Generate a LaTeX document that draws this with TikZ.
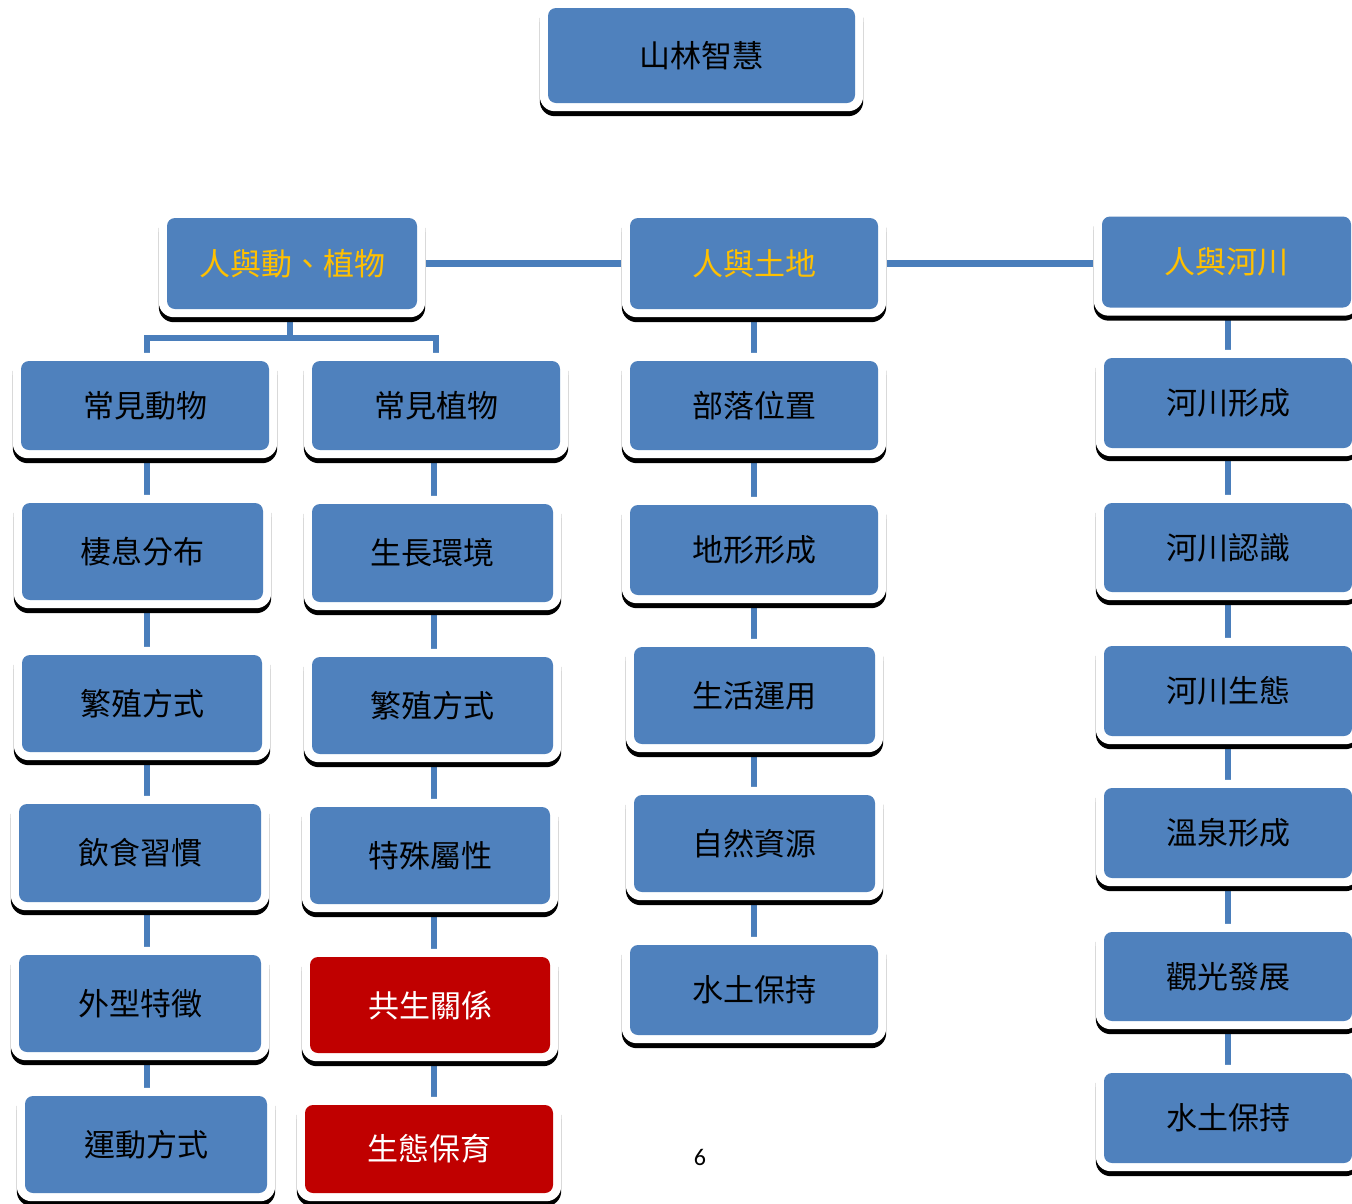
\documentclass[tikz,border=0pt]{standalone}
\usepackage{fontspec}
\setmainfont{Carlito}
\newfontfamily\cjk{Noto Sans CJK TC}
\usetikzlibrary{calc}
\definecolor{boxblue}{HTML}{4F81BD}
\definecolor{linkblue}{HTML}{4A7EBB}
\definecolor{boxred}{HTML}{C00000}
\definecolor{gold}{HTML}{FFC000}
\pgfdeclarelayer{links}
\pgfdeclarelayer{frames}
\pgfsetlayers{links,frames,main}
\begin{document}
\begin{tikzpicture}[x=1pt,y=-1pt,
  box/.style={rounded corners=8pt, fill=boxblue, inner sep=0pt, font=\cjk\fontsize{31}{36}\selectfont, text=black},
  redbox/.style={box, fill=boxred, text=white},
  head/.style={box, text=gold},
  sz/.style 2 args={minimum width=#1pt, minimum height=#2pt},
  link/.style={draw=linkblue, line width=6.5pt},
]
\useasboundingbox (0,0) rectangle (1352,1203);

% top
\node[box, sz={307}{95}] (T) at (701.5,55.5) {山林智慧};
% level 1
\node[head, sz={250}{91}] (H1) at (292,263.5) {人與動、植物};
\node[head, sz={248}{91}] (H2) at (754,263.5) {人與土地};
\node[head, sz={249}{91}] (H3) at (1226.5,262) {人與河川};
% column A
\node[box, sz={248}{89}] (A1) at (145,405.5) {常見動物};
\node[box, sz={241}{97}] (A2) at (142.5,551.5) {棲息分布};
\node[box, sz={240}{97}] (A3) at (142,703.5) {繁殖方式};
\node[box, sz={242}{98}] (A4) at (140,853) {飲食習慣};
\node[box, sz={242}{97}] (A5) at (140,1003.5) {外型特徵};
\node[box, sz={242}{97}] (A6) at (146,1144.5) {運動方式};
% column B
\node[box, sz={248}{89}] (B1) at (436,405.5) {常見植物};
\node[box, sz={241}{98}] (B2) at (432.5,553) {生長環境};
\node[box, sz={241}{97}] (B3) at (432.5,705.5) {繁殖方式};
\node[box, sz={240}{97}] (B4) at (430,855.5) {特殊屬性};
\node[redbox, sz={240}{96}] (B5) at (430,1005) {共生關係};
\node[redbox, sz={248}{88}] (B6) at (429,1149) {生態保育};
% column C
\node[box, sz={248}{89}] (C1) at (754,405.5) {部落位置};
\node[box, sz={248}{90}] (C2) at (754,550) {地形形成};
\node[box, sz={241}{97}] (C3) at (754.5,695.5) {生活運用};
\node[box, sz={241}{97}] (C4) at (754.5,843.5) {自然資源};
\node[box, sz={248}{90}] (C5) at (754,990) {水土保持};
% column D
\node[box, sz={248}{90}] (D1) at (1228,403) {河川形成};
\node[box, sz={248}{89}] (D2) at (1228,547.5) {河川認識};
\node[box, sz={248}{90}] (D3) at (1228,691) {河川生態};
\node[box, sz={248}{90}] (D4) at (1228,833) {溫泉形成};
\node[box, sz={248}{89}] (D5) at (1228,976.5) {觀光發展};
\node[box, sz={248}{90}] (D6) at (1228,1118) {水土保持};

\node[font=\fontsize{24}{28}\selectfont] (pg) at (700,1157) {6};

% frames and shadows
\begin{pgfonlayer}{frames}
\foreach \n in {T,H1,H2,H3,A1,A2,A3,A4,A5,A6,B1,B2,B3,B4,B5,B6,C1,C2,C3,C4,C5,D1,D2,D3,D4,D5,D6}{
  \fill[black, rounded corners=15pt] ($(\n.south west)+(-8,13)$) rectangle ($(\n.north east)+(8,-3)$);
  \fill[white, rounded corners=15pt] ($(\n.south west)+(-8,8)$) rectangle ($(\n.north east)+(8,-8)$);
  \draw[black!15, line width=0.7pt] ($(\n.north west)+(-8,14)$) -- ($(\n.south west)+(-8,-4)$);
  \draw[black!15, line width=0.7pt] ($(\n.north east)+(8,14)$) -- ($(\n.south east)+(8,-4)$);
}
\end{pgfonlayer}

% connectors
\coordinate (cA) at (147,0);
\coordinate (cB) at (434,0);
\coordinate (cC) at (754,0);
\coordinate (cD) at (1228,0);
\coordinate (brL) at (147,338);
\coordinate (brR) at (436,338);
\begin{pgfonlayer}{links}
\draw[link] (H1.east |- H2.east) -- (H2.west);
\draw[link] (H2.east) -- (H3.west |- H2.east);
\draw[link] (H1.south -| 290,0) -- (brL -| 290,0);
\draw[link, line join=miter] (A1.north -| brL) -- (brL) -- (brR) -- (B1.north -| brR);
\draw[link] (A1.south -| cA) -- (A2.north -| cA);
\draw[link] (A2.south -| cA) -- (A3.north -| cA);
\draw[link] (A3.south -| cA) -- (A4.north -| cA);
\draw[link] (A4.south -| cA) -- (A5.north -| cA);
\draw[link] (A5.south -| cA) -- (A6.north -| cA);
\draw[link] (B1.south -| cB) -- (B2.north -| cB);
\draw[link] (B2.south -| cB) -- (B3.north -| cB);
\draw[link] (B3.south -| cB) -- (B4.north -| cB);
\draw[link] (B4.south -| cB) -- (B5.north -| cB);
\draw[link] (B5.south -| cB) -- (B6.north -| cB);
\draw[link] (H2.south -| cC) -- (C1.north -| cC);
\draw[link] (C1.south -| cC) -- (C2.north -| cC);
\draw[link] (C2.south -| cC) -- (C3.north -| cC);
\draw[link] (C3.south -| cC) -- (C4.north -| cC);
\draw[link] (C4.south -| cC) -- (C5.north -| cC);
\draw[link] (H3.south -| cD) -- (D1.north -| cD);
\draw[link] (D1.south -| cD) -- (D2.north -| cD);
\draw[link] (D2.south -| cD) -- (D3.north -| cD);
\draw[link] (D3.south -| cD) -- (D4.north -| cD);
\draw[link] (D4.south -| cD) -- (D5.north -| cD);
\draw[link] (D5.south -| cD) -- (D6.north -| cD);
\end{pgfonlayer}
\end{tikzpicture}
\end{document}
